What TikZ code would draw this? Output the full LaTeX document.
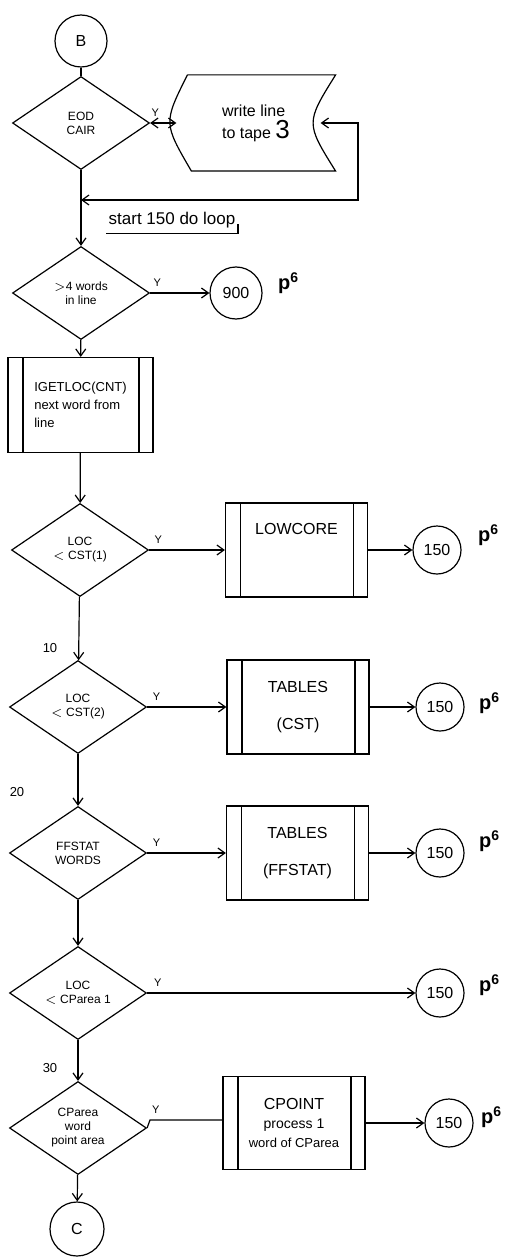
\documentclass[tikz,border=0pt]{standalone}
\usepackage{fontspec}
\setmainfont{Liberation Sans}
\usetikzlibrary{shapes.geometric, arrows.meta, positioning}
\tikzset{
  decision/.style={diamond, draw=black, aspect=1.5, inner sep=0pt, align=center,
                   minimum width=68.5pt, minimum height=46.5pt,
                   font=\fontsize{6}{7}\selectfont},
  box/.style={rectangle, draw=black, minimum width=71pt, minimum height=47pt,
              align=center, font=\fontsize{8}{9.5}\selectfont,
              path picture={
                \draw ([xshift=7.5pt]path picture bounding box.north west) -- ([xshift=7.5pt]path picture bounding box.south west);
                \draw ([xshift=-7pt]path picture bounding box.north east) -- ([xshift=-7pt]path picture bounding box.south east);}},
  tapebox/.style={rectangle, inner sep=0pt, minimum width=79pt, minimum height=47.5pt,
                  align=left, font=\fontsize{8}{11}\selectfont},
  conn/.style={circle, draw=black, minimum size=24pt, inner sep=0pt,
               font=\fontsize{8}{9}\selectfont},
  arrow/.style={-{Straight Barb[length=3.5pt,width=5pt]}},
  dblarrow/.style={{Straight Barb[length=3.5pt,width=5pt]}-{Straight Barb[length=3.5pt,width=5pt]}},
  ylab/.style={font=\fontsize{5.5}{6}\selectfont, inner sep=1pt, above, yshift=2pt},
  pagemark/.style={font=\fontsize{10}{11}\bfseries\selectfont, inner sep=0pt},
  seqlab/.style={font=\fontsize{6.5}{7}\selectfont, inner sep=0pt},
}

\begin{document}
\begin{tikzpicture}[x=0.5pt, y=-0.5pt, line width=0.6pt]
  \useasboundingbox (0,0) rectangle (519,1257);

  % Entry and end of card test
  \node[conn, minimum size=26pt] (conB) at (81,41) {B};
  \node[decision] (eod) at (81,123) {EOD\\CAIR};
  \node[tapebox] (tape) at (256,123) {write line\\to tape {\fontsize{13}{13}\selectfont 3}};
  \draw ([xshift=5.5pt]tape.north west) -- (tape.north east)
        .. controls ([xshift=-15pt]tape.east) .. (tape.south east)
        -- ([xshift=7.5pt]tape.south west)
        .. controls ([xshift=-6.5pt]tape.west) .. ([xshift=5.5pt]tape.north west);
  \coordinate (loopr) at (358,200);
  \coordinate (loopin) at (81,200);

  \node[font=\fontsize{8.5}{9}\selectfont, inner sep=1pt] (startlbl) at (172,220) {start 150 do loop};

  % Word count test
  \node[decision] (words) at (81,293) {$>$4 words\\in line};
  \node[conn, minimum size=26pt] (c900) at (236,293) {900};
  \node[pagemark, right=7.5pt of c900, yshift=5pt] (pg900) {p\textsuperscript{6}};

  \node[box, minimum width=72.5pt, minimum height=47.5pt, align=left,
        font=\fontsize{6.5}{9}\selectfont] (getloc) at (80.5,405) {IGETLOC(CNT)\\next word from\\line};

  % Location tests
  \node[decision] (lcc1) at (80,550) {LOC\\$<$ CST(1)};
  \node[box] (low) at (296.5,550) {LOWCORE\\[12pt]\mbox{}};
  \node[conn] (c150a) at (437,550) {150};
  \node[pagemark, right=8pt of c150a, yshift=7.5pt] (pga) {p\textsuperscript{6}};

  \node[seqlab] (s10) at (50,648) {10};
  \node[decision] (lcc2) at (78,707) {LOC\\$<$ CST(2)};
  \node[box] (tcst) at (298,707) {TABLES\\[9pt](CST)};
  \node[conn] (c150b) at (440,707) {150};
  \node[pagemark, right=7pt of c150b, yshift=2pt] (pgb) {p\textsuperscript{6}};

  \node[seqlab] (s20) at (17,792) {20};
  \node[decision] (ffs) at (78,853) {FFSTAT\\WORDS};
  \node[box] (tffs) at (297.5,853) {TABLES\\[9pt](FFSTAT)};
  \node[conn] (c150c) at (440,853) {150};
  \node[pagemark, right=7pt of c150c, yshift=6pt] (pgc) {p\textsuperscript{6}};

  \node[decision] (cpa) at (78,993) {LOC\\$<$ CParea 1};
  \node[conn] (c150d) at (440,993) {150};
  \node[pagemark, right=7pt of c150d, yshift=4pt] (pgd) {p\textsuperscript{6}};

  \node[seqlab] (s30) at (50,1068) {30};
  \node[decision] (cpw) at (78,1128) {CParea\\word\\point area};
  \node[box, minimum height=46.5pt] (cpoint) at (294,1123) {CPOINT\\{\fontsize{7}{8}\selectfont process 1}\\{\fontsize{6.5}{8}\selectfont word of CParea}};
  \node[conn] (c150e) at (449,1123) {150};
  \node[pagemark, right=3.5pt of c150e, yshift=3pt] (pge) {p\textsuperscript{6}};
  \coordinate (step7) at (150,1120);

  \node[conn, minimum size=27pt] (conC) at (77,1229) {C};

  % Connectors
  \draw (conB) -- (eod);
  \draw[dblarrow] (eod) -- (tape) node[pos=0.2, ylab] {Y};
  \draw[dblarrow] ([xshift=-7.5pt]tape.east) -| (loopr) -- (loopin);
  \draw ([yshift=-1.5pt]startlbl.south west) -- ([yshift=-1.5pt]startlbl.south east) -- ++(0,-10);
  \draw[arrow] (eod) -- (words);
  \draw[arrow] (words) -- (c900) node[pos=0.12, ylab] {Y};
  \draw[arrow] (words) -- (getloc);
  \draw[arrow] (getloc) -- (lcc1);
  \draw[arrow] (lcc1) -- (low) node[pos=0.12, ylab] {Y};
  \draw[arrow] (low) -- (c150a);
  \draw[arrow] (lcc1) -- (lcc2);
  \draw[arrow] (lcc2) -- (tcst) node[pos=0.12, ylab] {Y};
  \draw[arrow] (tcst) -- (c150b);
  \draw[arrow] (lcc2) -- (ffs);
  \draw[arrow] (ffs) -- (tffs) node[pos=0.12, ylab] {Y};
  \draw[arrow] (tffs) -- (c150c);
  \draw[arrow] (ffs) -- (cpa);
  \draw[arrow] (cpa) -- (c150d) node[pos=0.04, ylab] {Y};
  \draw[arrow] (cpa) -- (cpw);
  \draw (cpw.east) -- (step7) -- (step7 -| cpoint.west) node[pos=0.08, ylab] {Y};
  \draw[arrow] (cpoint) -- (c150e);
  \draw[arrow] (cpw) -- (conC);

\end{tikzpicture}
\end{document}
